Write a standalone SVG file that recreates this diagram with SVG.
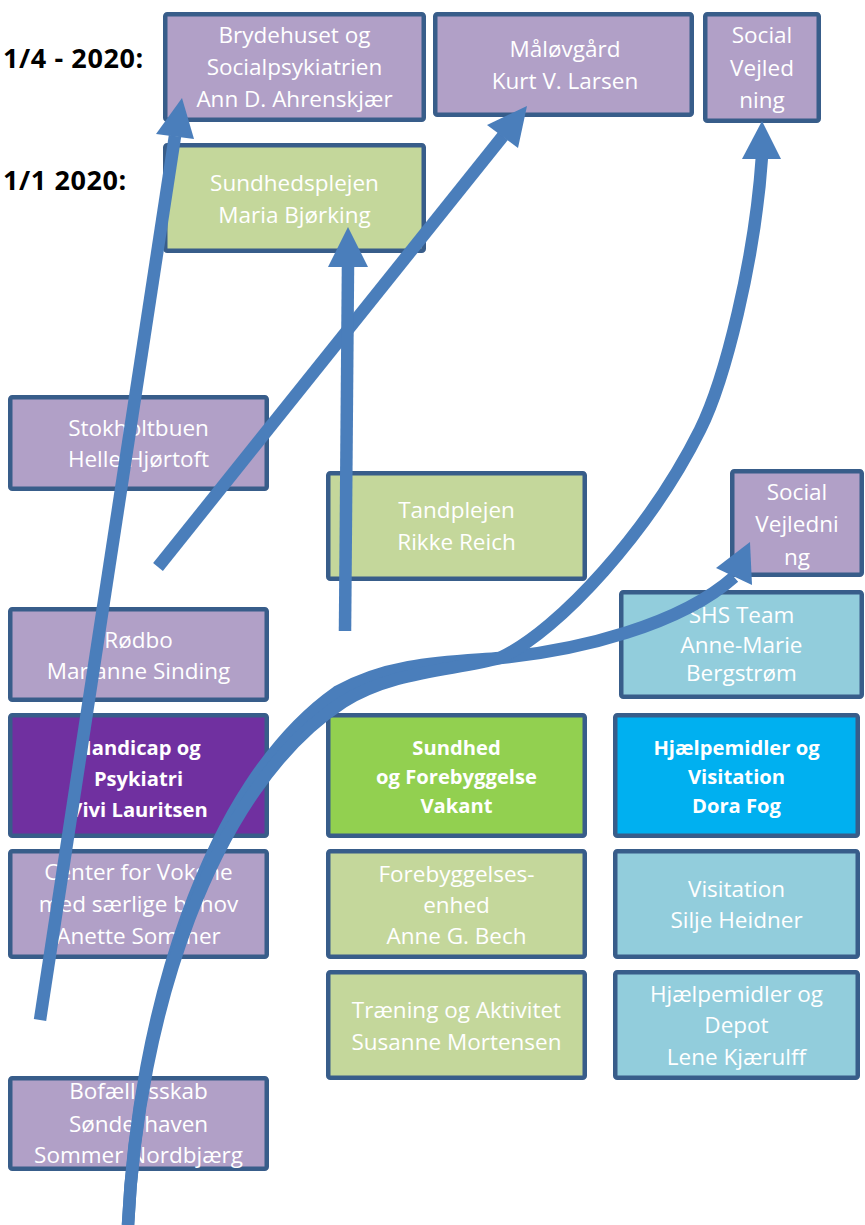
<svg xmlns="http://www.w3.org/2000/svg" width="865" height="1225" viewBox="0 0 865 1225">
<style>
.box{stroke:#385D8A;stroke-width:4.5}
.pu{fill:#B1A0C7}.dp{fill:#7030A0}.lg{fill:#C4D79B}.bg{fill:#92D050}.lb{fill:#92CDDC}.bb{fill:#00B0F0}
.t{font-family:'Open Sans',sans-serif;font-size:22.5px;fill:#fff;text-anchor:middle}
.b{font-family:'Open Sans',sans-serif;font-size:20.2px;font-weight:bold;fill:#fff;text-anchor:middle}
.d{font-family:'Open Sans',sans-serif;font-size:27px;font-weight:bold;fill:#000;letter-spacing:0.6px}
.sh{fill:none;stroke:#4A7EBB;stroke-width:12.5}
.hd{fill:#4A7EBB}
</style>
<rect width="865" height="1225" fill="#fff"/>
<g id="labels">
<text class="d" x="3" y="68">1/4 - 2020:</text>
<text class="d" x="3" y="190">1/1 2020:</text>
</g>
<g id="n-brydehuset"><rect class="box pu" x="165.25" y="14.25" width="258.5" height="105.5" rx="2"/>
<text class="t" x="294.5" y="43">Brydehuset og</text><text class="t" x="294.5" y="75">Socialpsykiatrien</text><text class="t" x="294.5" y="107">Ann D. Ahrenskjær</text></g>
<g id="n-maloevgaard"><rect class="box pu" x="435.25" y="14.25" width="256.5" height="100.5" rx="2"/>
<text class="t" x="565" y="57">Måløvgård</text><text class="t" x="565" y="89">Kurt V. Larsen</text></g>
<g id="n-social1"><rect class="box pu" x="705.25" y="14.25" width="113.5" height="106.5" rx="2"/>
<text class="t" x="762" y="43">Social</text><text class="t" x="762" y="76">Vejled</text><text class="t" x="762" y="108">ning</text></g>
<g id="n-sundhedsplejen"><rect class="box lg" x="165.25" y="145.25" width="258.5" height="105.5" rx="2"/>
<text class="t" x="294.5" y="191">Sundhedsplejen</text><text class="t" x="294.5" y="223">Maria Bjørking</text></g>
<g id="n-stokholtbuen"><rect class="box pu" x="10.25" y="397.25" width="256.5" height="91.5" rx="2"/>
<text class="t" x="138.5" y="436">Stokholtbuen</text><text class="t" x="138.5" y="467">Helle Hjørtoft</text></g>
<g id="n-tandplejen"><rect class="box lg" x="328.25" y="473.25" width="256.5" height="105.5" rx="2"/>
<text class="t" x="456.5" y="518">Tandplejen</text><text class="t" x="456.5" y="550">Rikke Reich</text></g>
<g id="n-social2"><rect class="box pu" x="732.25" y="471.25" width="129.5" height="103.5" rx="2"/>
<text class="t" x="797" y="500">Social</text><text class="t" x="797" y="532">Vejledni</text><text class="t" x="797" y="565">ng</text></g>
<g id="n-shs"><rect class="box lb" x="621.25" y="592.25" width="240.5" height="104.5" rx="2"/>
<text class="t" x="741.5" y="623">SHS Team</text><text class="t" x="741.5" y="653">Anne-Marie</text><text class="t" x="741.5" y="681">Bergstrøm</text></g>
<g id="n-roedbo"><rect class="box pu" x="10.25" y="609.25" width="256.5" height="90.5" rx="2"/>
<text class="t" x="138.5" y="648">Rødbo</text><text class="t" x="138.5" y="679">Marianne Sinding</text></g>
<g id="n-handicap"><rect class="box dp" x="10.25" y="715.25" width="256.5" height="120.5" rx="2"/>
<text class="b" x="138.5" y="755">Handicap og</text><text class="b" x="138.5" y="786">Psykiatri</text><text class="b" x="138.5" y="817">Vivi Lauritsen</text></g>
<g id="n-sundhed"><rect class="box bg" x="328.25" y="715.25" width="256.5" height="120.5" rx="2"/>
<text class="b" x="456.5" y="755">Sundhed</text><text class="b" x="456.5" y="784">og Forebyggelse</text><text class="b" x="456.5" y="813">Vakant</text></g>
<g id="n-hjaelp-vis"><rect class="box bb" x="615.25" y="715.25" width="242.5" height="120.5" rx="2"/>
<text class="b" x="736.5" y="755">Hjælpemidler og</text><text class="b" x="736.5" y="784">Visitation</text><text class="b" x="736.5" y="813">Dora Fog</text></g>
<g id="n-center"><rect class="box pu" x="10.25" y="851.25" width="256.5" height="105.5" rx="2"/>
<text class="t" x="138.5" y="880">Center for Voksne</text><text class="t" x="138.5" y="912">med særlige behov</text><text class="t" x="138.5" y="944">Anette Sommer</text></g>
<g id="n-forebyg"><rect class="box lg" x="328.25" y="851.25" width="256.5" height="105.5" rx="2"/>
<text class="t" x="456.5" y="882">Forebyggelses-</text><text class="t" x="456.5" y="913">enhed</text><text class="t" x="456.5" y="944">Anne G. Bech</text></g>
<g id="n-visitation"><rect class="box lb" x="615.25" y="851.25" width="242.5" height="105.5" rx="2"/>
<text class="t" x="736.5" y="897">Visitation</text><text class="t" x="736.5" y="928">Silje Heidner</text></g>
<g id="n-traening"><rect class="box lg" x="328.25" y="972.25" width="256.5" height="105.5" rx="2"/>
<text class="t" x="456.5" y="1018">Træning og Aktivitet</text><text class="t" x="456.5" y="1050">Susanne Mortensen</text></g>
<g id="n-depot"><rect class="box lb" x="615.25" y="972.25" width="242.5" height="105.5" rx="2"/>
<text class="t" x="736.5" y="1002">Hjælpemidler og</text><text class="t" x="736.5" y="1033">Depot</text><text class="t" x="736.5" y="1065">Lene Kjærulff</text></g>
<g id="n-bofaelles"><rect class="box pu" x="10.25" y="1078.25" width="256.5" height="90.5" rx="2"/>
<text class="t" x="138.5" y="1099">Bofællesskab</text><text class="t" x="138.5" y="1132">Sønderhaven</text><text class="t" x="138.5" y="1163">Sommer Nordbjærg</text></g>
<g id="connectors">
<path class="sh" d="M40,1020 L175,136"/>
<polygon class="hd" points="182,98 156,134 194,139"/>
<path class="sh" d="M158,567 L503,136"/>
<polygon class="hd" points="527,106 487,125 518,148"/>
<path class="sh" d="M345,631 L348,265"/>
<polygon class="hd" points="348,227 328,267 368,267"/>
<path class="sh" d="M128,1225 C138,1018 206,784 337,692 C390,662 450,662 500,658 C580,650 680,625 734,577"/>
<polygon class="hd" points="750,542 716,568 752,585"/>
<path class="sh" d="M128,1225 C138,1018 210,788 343,702 C393,671 450,671 500,658 C560,630 650,530 700,430 C725,380 755,260 762,156"/>
<polygon class="hd" points="762,121 742,159 781,159"/>
</g>
</svg>
